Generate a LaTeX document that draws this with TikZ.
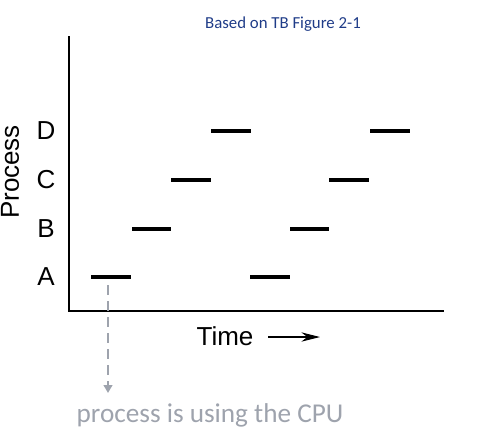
\documentclass[tikz,border=0pt]{standalone}
\usepackage{fontspec}
\setmainfont{Liberation Sans}
\newfontfamily\carlito{Carlito}
\usetikzlibrary{arrows.meta}

\definecolor{titleblue}{HTML}{1F3C88}
\definecolor{notegray}{HTML}{9EA3AD}

\tikzset{
  burst/.style = {black, line width=3pt},
  axis/.style = {black, line width=1.9pt},
  proclabel/.style = {font=\fontsize{19.5}{21}\selectfont, inner sep=0pt},
}

\begin{document}
\begin{tikzpicture}[x=0.75pt, y=-0.75pt]
\useasboundingbox (0, 0) rectangle (481, 430);

% axes
\coordinate (top) at (69, 36);
\coordinate (origin) at (69, 311);
\coordinate (right) at (444, 311);
\draw[axis] (top) -- (origin) -- (right);

% process labels
\node[proclabel] (labD) at (46, 131) {D};
\node[proclabel] (labC) at (46, 180) {C};
\node[proclabel] (labB) at (46, 229) {B};
\node[proclabel] (labA) at (46, 277) {A};
\node[proclabel, rotate=90] (process) at (10, 172) {Process};

% cpu bursts
\draw[burst] (91, 277) -- (131, 277);
\draw[burst] (132, 229) -- (171, 229);
\draw[burst] (171, 180) -- (211, 180);
\draw[burst] (211, 131) -- (251, 131);
\draw[burst] (250, 277) -- (290, 277);
\draw[burst] (290, 229) -- (329, 229);
\draw[burst] (329, 180) -- (369, 180);
\draw[burst] (370, 131) -- (410, 131);

% time axis label
\node[proclabel] (time) at (225, 336) {Time};
\coordinate (timestart) at (268, 337);
\coordinate (timeend) at (320, 337);
\draw[black, line width=0.8pt, -{Stealth[length=14pt, width=7pt]}] (timestart) -- (timeend);

% title and note
\node[text=titleblue, font=\carlito\fontsize{12.6}{14}\selectfont] (title) at (283, 24) {Based on TB Figure 2-1};
\node[text=notegray, font=\carlito\fontsize{20.4}{23}\selectfont] (note) at (210, 415) {process is using the CPU};
\coordinate (burstA) at (108, 285);
\coordinate (noteA) at (108, 393);
\draw[notegray, line width=2.2pt, dash pattern=on 7.5pt off 4.5pt, -{Triangle[length=6pt, width=6.5pt]}] (burstA) -- (noteA);
\end{tikzpicture}
\end{document}
